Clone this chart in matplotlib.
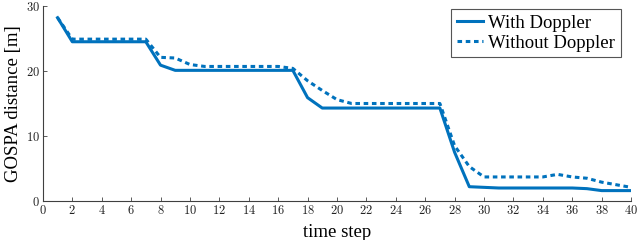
import numpy as np
import matplotlib
matplotlib.use("Agg")
import matplotlib.pyplot as plt
from matplotlib.ticker import FuncFormatter

# GOSPA distance per time step
time_step = np.arange(1, 41)
with_doppler = [28.2, 24.5, 24.5, 24.5, 24.5, 24.5, 24.5, 20.9, 20.1, 20.1,
                20.1, 20.1, 20.1, 20.1, 20.1, 20.1, 20.1, 15.9, 14.3, 14.3,
                14.3, 14.3, 14.3, 14.3, 14.3, 14.3, 14.3, 7.5, 2.2, 2.1,
                2.0, 2.0, 2.0, 2.0, 2.0, 2.0, 1.9, 1.6, 1.6, 1.6]
without_doppler = [28.2, 24.9, 24.9, 24.9, 24.9, 24.9, 24.9, 22.1, 22.0, 21.0,
                   20.7, 20.7, 20.7, 20.7, 20.7, 20.7, 20.4, 18.5, 17.0, 15.6,
                   15.0, 15.0, 15.0, 15.0, 15.0, 15.0, 15.0, 8.5, 5.3, 3.7,
                   3.7, 3.7, 3.7, 3.7, 4.1, 3.7, 3.5, 2.9, 2.5, 2.1]

plt.rcParams['font.family'] = ['Liberation Serif', 'DejaVu Serif']
plt.rcParams['mathtext.fontset'] = 'cm'

blue = '#0072BD'
axis_grey = '#404040'

fig = plt.figure(figsize=(6.4, 2.4), dpi=100)
ax = fig.add_axes([0.067, 0.1625, 0.919, 0.8125])

ax.plot(time_step, with_doppler, color=blue, lw=2.2, label='With Doppler')
ax.plot(time_step, without_doppler, color=blue, lw=2.2, ls=(0, (1.5, 1.2)),
        label='Without Doppler')

ax.set_xlim(0, 40)
ax.set_ylim(0, 30)
ax.set_xticks(np.arange(0, 41, 2))
ax.set_yticks([0, 10, 20, 30])
fmt = FuncFormatter(lambda v, p: f'${v:g}$')
ax.xaxis.set_major_formatter(fmt)
ax.yaxis.set_major_formatter(fmt)

for s in ['top', 'right']:
    ax.spines[s].set_visible(False)
for s in ['left', 'bottom']:
    ax.spines[s].set_color(axis_grey)
    ax.spines[s].set_linewidth(0.8)
ax.tick_params(direction='in', length=3, width=0.6, colors=axis_grey,
               labelsize=9, labelcolor='#222222', pad=2)

ax.set_xlabel('time step', fontsize=13.5, labelpad=5)
ax.set_ylabel('GOSPA distance [m]', fontsize=13.5, labelpad=3)

leg = ax.legend(loc='upper right', bbox_to_anchor=(0.986, 0.995), fontsize=13.5,
                handlelength=1.4, handletextpad=0.3, borderpad=0.3,
                labelspacing=0.15, fancybox=False, framealpha=1,
                borderaxespad=0.1)
leg.get_frame().set_edgecolor('#555555')
leg.get_frame().set_linewidth(0.8)

fig.savefig('out.png', dpi=100)
